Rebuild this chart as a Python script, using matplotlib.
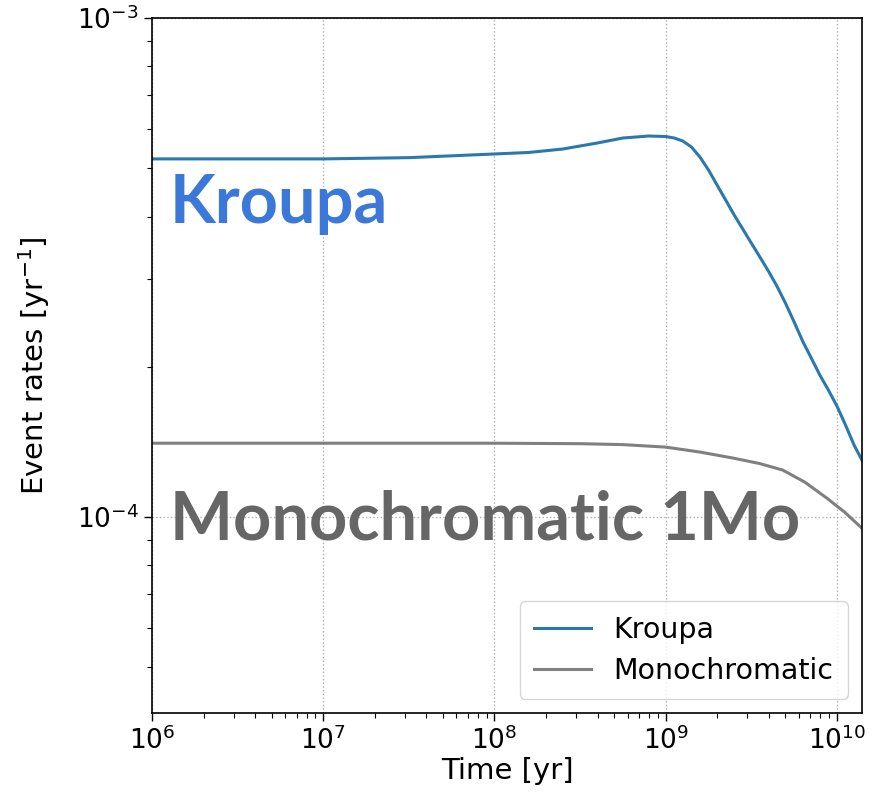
import numpy as np
import matplotlib
matplotlib.use('Agg')
import matplotlib.pyplot as plt

# event rates vs time for two initial mass functions
t_kroupa = [1e6, 1e7, 3.16e7, 1e8, 1.585e8, 2.512e8, 3.981e8, 5.623e8, 7.943e8,
            1e9, 1.122e9, 1.259e9, 1.413e9, 1.585e9, 1.778e9, 1.995e9, 2.239e9,
            2.512e9, 2.818e9, 3.162e9, 3.548e9, 3.981e9, 4.467e9, 5.012e9,
            5.623e9, 6.310e9, 7.079e9, 7.943e9, 8.913e9, 1e10, 1.122e10,
            1.259e10, 1.4e10]
r_kroupa = [5.22e-4, 5.22e-4, 5.25e-4, 5.34e-4, 5.377e-4, 5.464e-4, 5.617e-4,
            5.748e-4, 5.801e-4, 5.788e-4, 5.748e-4, 5.669e-4, 5.515e-4,
            5.264e-4, 4.960e-4, 4.627e-4, 4.318e-4, 4.029e-4, 3.777e-4,
            3.540e-4, 3.319e-4, 3.110e-4, 2.900e-4, 2.680e-4, 2.460e-4,
            2.250e-4, 2.083e-4, 1.926e-4, 1.797e-4, 1.669e-4, 1.529e-4,
            1.394e-4, 1.300e-4]

t_mono = [1e6, 1e7, 1e8, 3.162e8, 5.623e8, 1e9, 1.58e9, 2.47e9, 3.54e9,
          4.83e9, 6.49e9, 8.71e9, 1.109e10, 1.358e10, 1.4e10]
r_mono = [1.406e-4, 1.406e-4, 1.406e-4, 1.403e-4, 1.397e-4, 1.381e-4,
          1.350e-4, 1.313e-4, 1.280e-4, 1.242e-4, 1.175e-4, 1.092e-4,
          1.023e-4, 9.59e-5, 9.50e-5]

fig = plt.figure(figsize=(8.72, 8.07), dpi=100)
ax = fig.add_axes([0.1743, 0.1165, 0.8142, 0.8612])

ax.plot(t_kroupa, r_kroupa, color='#2b78ad', lw=2.2, label='Kroupa')
ax.plot(t_mono, r_mono, color='#808080', lw=2.2, label='Monochromatic')

ax.set_xscale('log')
ax.set_yscale('log')
ax.set_xlim(1e6, 1.4e10)
ax.set_ylim(4.05e-5, 1e-3)

ax.grid(True, which='major', ls=':', color='#b0b0b0', lw=1.0)
ax.tick_params(which='major', labelsize=19, length=6, width=1.0)
ax.tick_params(which='minor', length=3.5, width=0.8)
for s in ax.spines.values():
    s.set_linewidth(1.2)

ax.set_xlabel('Time [yr]', fontsize=21, labelpad=2)
ax.set_ylabel(r'Event rates [yr$^{-1}$]', fontsize=21, labelpad=18)

leg = ax.legend(loc='lower right', fontsize=20.5, handlelength=2.0,
                borderpad=0.5, labelspacing=0.45, fancybox=True)

ax.text(0.025, 0.705, 'Kroupa', transform=ax.transAxes, family='Lato',
        weight='bold', fontsize=48, color='#3b78d8')
ax.text(0.025, 0.249, 'Monochromatic 1Mo', transform=ax.transAxes, family='Lato',
        weight='bold', fontsize=48, color='#666666')

fig.savefig('out.png', dpi=100)
